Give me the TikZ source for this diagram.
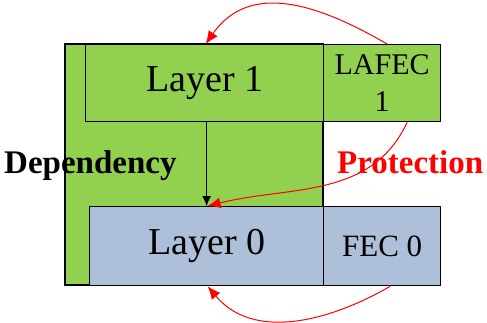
\documentclass[tikz,border=0pt]{standalone}
\usepackage{fontspec}
\setmainfont{Liberation Serif}
\usetikzlibrary{arrows.meta}
\definecolor{lgreen}{HTML}{92D050}
\definecolor{lblue}{HTML}{ADBFD9}
\definecolor{pred}{HTML}{FF0000}
\tikzset{
  box/.style={draw=black, line width=1.3pt, inner sep=0pt, anchor=north west},
  bigtxt/.style={font=\fontsize{38}{40}\selectfont},
  fectxt/.style={font=\fontsize{30}{37}\selectfont, align=center},
  lbl/.style={font=\bfseries\fontsize{33}{36}\selectfont, anchor=base west, inner sep=0pt},
  redarrow/.style={draw=pred, line width=1pt, -{Latex[length=13pt,width=11pt]}},
  deparrow/.style={draw=black, line width=1pt, -{Latex[length=10pt,width=9pt]}}
}
\begin{document}
\begin{tikzpicture}[x=1pt,y=-1pt]
  \useasboundingbox (0,0) rectangle (487,322);
  % green backing block behind both layers
  \filldraw[fill=lgreen, draw=black, line width=1.3pt] (65,44) rectangle (323,285);
  % layer 1 row
  \node[box, fill=lgreen, minimum width=238pt, minimum height=77pt, bigtxt] (layer1) at (85,44) {Layer 1};
  \node[box, fill=lgreen, minimum width=117pt, minimum height=77pt, fectxt] (lafec) at (323,44) {LAFEC\\1};
  % layer 0 row
  \node[box, fill=lblue, minimum width=234pt, minimum height=79pt, bigtxt] (layer0) at (89,206) {Layer 0};
  \node[box, fill=lblue, minimum width=117pt, minimum height=79pt, font=\fontsize{31}{36}\selectfont] (fec0) at (323,206) {FEC 0};
  % labels
  \node[lbl, text=black] (dep) at (4,173) {Dependency};
  \node[lbl, text=pred] (prot) at (337,173) {Protection};
  % connectors
  \draw[deparrow] (layer0.north |- layer1.south) -- (layer0.north);
  \draw[redarrow] ([xshift=25pt]lafec.south) to[out=245, in=14] ([xshift=1pt]layer0.north);
  \draw[redarrow] ([xshift=5pt]lafec.north) to[out=150, in=55, looseness=1.1] ([xshift=1pt]layer1.north);
  \draw[redarrow] ([xshift=8pt]fec0.south) to[out=210, in=-50] ([xshift=1pt]layer0.south);
\end{tikzpicture}
\end{document}
